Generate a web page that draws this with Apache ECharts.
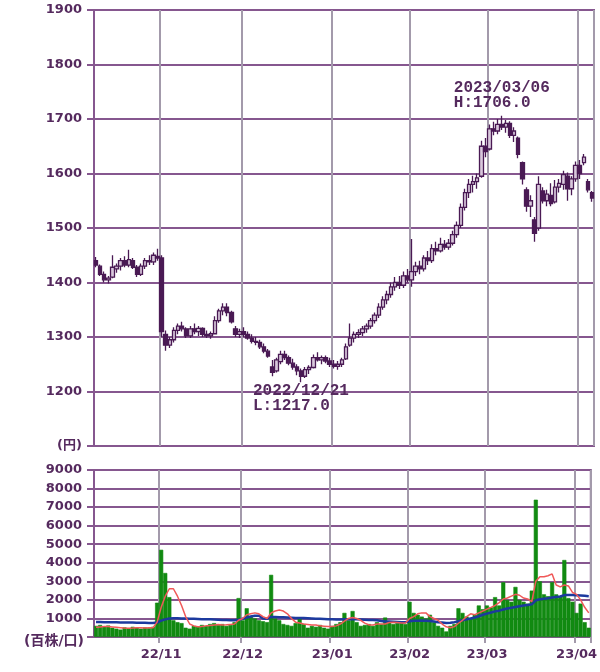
<!DOCTYPE html>
<html>
<head>
<meta charset="utf-8">
<script src="https://cdn.jsdelivr.net/npm/echarts@6/dist/echarts.min.js"></script>
<style>html,body{margin:0;padding:0;background:#fff;}#c{width:600px;height:672px;}</style>
</head>
<body>
<div id="c"></div>
<script>
const dates = [
'2022/10/07','2022/10/11','2022/10/12','2022/10/13','2022/10/14','2022/10/17','2022/10/18','2022/10/19','2022/10/20','2022/10/21','2022/10/24','2022/10/25','2022/10/26','2022/10/27','2022/10/28','2022/10/31',
'2022/11/01','2022/11/02','2022/11/04','2022/11/07','2022/11/08','2022/11/09','2022/11/10','2022/11/11','2022/11/14','2022/11/15','2022/11/16','2022/11/17','2022/11/18','2022/11/21','2022/11/22','2022/11/24','2022/11/25','2022/11/28','2022/11/29','2022/11/30',
'2022/12/01','2022/12/02','2022/12/05','2022/12/06','2022/12/07','2022/12/08','2022/12/09','2022/12/12','2022/12/13','2022/12/14','2022/12/15','2022/12/16','2022/12/19','2022/12/20','2022/12/21','2022/12/22','2022/12/23','2022/12/26','2022/12/27','2022/12/28','2022/12/29','2022/12/30',
'2023/01/04','2023/01/05','2023/01/06','2023/01/10','2023/01/11','2023/01/12','2023/01/13','2023/01/16','2023/01/17','2023/01/18','2023/01/19','2023/01/20','2023/01/23','2023/01/24','2023/01/25','2023/01/26','2023/01/27','2023/01/30','2023/01/31',
'2023/02/01','2023/02/02','2023/02/03','2023/02/06','2023/02/07','2023/02/08','2023/02/09','2023/02/10','2023/02/13','2023/02/14','2023/02/15','2023/02/16','2023/02/17','2023/02/20','2023/02/21','2023/02/22','2023/02/24','2023/02/27','2023/02/28',
'2023/03/01','2023/03/02','2023/03/03','2023/03/06','2023/03/07','2023/03/08','2023/03/09','2023/03/10','2023/03/13','2023/03/14','2023/03/15','2023/03/16','2023/03/17','2023/03/20','2023/03/22','2023/03/23','2023/03/24','2023/03/27','2023/03/28','2023/03/29','2023/03/30','2023/03/31',
'2023/04/03','2023/04/04','2023/04/05','2023/04/06'
];
const openP = [
1440,1430,1415,1405,1410,1425,1430,1440,1432,1440,1428,1415,1430,1440,1438,1448,
1445,1305,1285,1295,1312,1320,1315,1302,1315,1310,1316,1305,1302,1306,1330,1348,1355,1345,1315,1305,
1310,1305,1298,1292,1290,1282,1274,1245,1238,1255,1268,1262,1252,1245,1238,1228,1240,1244,1262,1258,1262,1256,
1250,1246,1250,1260,1285,1298,1305,1308,1315,1320,1330,1340,1355,1368,1378,1392,1400,1395,1412,
1405,1420,1430,1425,1445,1440,1462,1458,1470,1465,1472,1488,1505,1538,1565,1580,1585,1595,1650,
1645,1682,1678,1690,1685,1692,1670,1665,1620,1570,1540,1515,1500,1568,1550,1560,1548,1575,1580,1595,1572,1590,
1615,1620,1585,1565
];
const closeP = [
1432,1415,1405,1408,1428,1430,1440,1432,1442,1428,1415,1430,1440,1438,1450,1445,
1310,1285,1295,1312,1320,1315,1302,1315,1310,1316,1305,1302,1306,1330,1348,1355,1345,1328,1305,1310,
1305,1298,1292,1290,1282,1274,1265,1235,1258,1268,1262,1252,1245,1238,1228,1240,1244,1262,1258,1262,1256,1250,
1246,1250,1258,1282,1298,1305,1308,1315,1320,1330,1340,1355,1368,1378,1392,1400,1395,1412,1405,
1420,1430,1425,1445,1440,1462,1458,1470,1465,1472,1488,1505,1538,1565,1580,1585,1592,1650,1640,
1682,1678,1690,1685,1692,1670,1678,1635,1590,1540,1550,1490,1580,1550,1562,1545,1575,1582,1598,1572,1590,1615,
1600,1630,1570,1555
];
const lowP = [
1428,1412,1400,1398,1408,1418,1422,1428,1428,1425,1410,1412,1425,1432,1432,1440,
1300,1275,1280,1290,1305,1310,1298,1298,1305,1302,1300,1298,1297,1305,1326,1340,1338,1325,1300,1298,
1300,1295,1288,1285,1278,1270,1262,1228,1235,1250,1258,1248,1240,1230,1217,1225,1232,1242,1255,1250,1252,1245,
1242,1240,1245,1258,1282,1290,1298,1302,1308,1315,1325,1335,1350,1360,1372,1385,1388,1390,1400,
1392,1412,1415,1420,1432,1436,1450,1455,1460,1460,1468,1482,1500,1532,1555,1565,1572,1592,1630,
1642,1670,1672,1680,1675,1665,1658,1628,1580,1530,1520,1475,1495,1545,1540,1540,1545,1565,1570,1550,1560,1585,
1590,1615,1565,1548
];
const highP = [
1447,1433,1420,1412,1450,1435,1445,1448,1460,1445,1432,1435,1445,1450,1455,1462,
1450,1312,1300,1318,1325,1328,1318,1320,1325,1320,1318,1312,1310,1338,1352,1362,1362,1348,1320,1315,
1318,1310,1305,1300,1295,1288,1278,1258,1262,1275,1275,1266,1260,1250,1242,1245,1248,1268,1272,1266,1266,1262,
1258,1256,1262,1288,1325,1310,1314,1320,1325,1335,1345,1362,1375,1385,1400,1410,1412,1420,1425,
1480,1438,1440,1450,1458,1470,1475,1482,1478,1480,1495,1512,1545,1572,1590,1596,1600,1660,1665,
1690,1695,1700,1706,1698,1696,1685,1668,1622,1575,1560,1520,1595,1575,1570,1582,1588,1590,1605,1602,1595,1622,
1625,1636,1590,1568
];
const volume = [
600,650,580,620,500,450,400,520,480,550,500,450,520,480,550,1850,
4700,3450,2150,900,800,750,500,450,600,550,650,600,700,750,650,700,600,650,800,2100,
900,1550,1100,1000,900,850,800,3350,1000,900,700,650,600,750,1000,700,500,600,550,650,500,450,
600,700,800,1300,900,1400,800,600,650,700,600,800,700,1050,800,700,750,800,700,
1900,1300,1200,1100,1000,1200,800,600,500,300,600,700,1550,1300,1100,1000,1200,1700,1500,
1700,1600,2150,1700,2950,2000,1900,2700,2000,1900,1800,2500,7400,3000,2300,2200,2950,2300,2200,4150,2100,1900,
1300,1800,800,500
];
const volMaShort = [
520,540,560,560,540,520,500,480,470,480,500,500,490,500,500,800,
1600,2200,2600,2600,2200,1700,1100,700,600,550,560,600,620,650,680,650,660,680,700,900,
1000,1200,1250,1300,1250,1100,1000,1300,1400,1450,1400,1250,1000,800,750,700,680,650,650,600,580,560,
560,600,700,850,1000,1050,1000,900,750,650,650,700,700,700,780,800,780,760,760,
1000,1100,1250,1300,1300,1100,1000,900,700,550,500,560,740,900,1100,1250,1200,1300,1400,
1500,1600,1700,1850,2050,2100,2200,2300,2250,2100,2050,1900,3000,3250,3250,3300,3400,2800,2700,2800,2750,2400,
2300,2000,1600,1300
];
const volMaLong = [
810,805,800,800,795,790,785,780,780,775,770,770,765,760,760,780,
880,950,1000,1010,1010,1000,1000,990,980,970,960,960,950,940,930,920,910,900,900,930,
980,1050,1100,1150,1150,1000,980,1080,1080,1070,1060,1050,1040,1030,1030,1020,1010,1000,990,980,970,960,
950,940,940,950,960,960,950,940,930,920,910,900,860,830,830,820,810,800,800,
850,870,880,890,880,860,830,800,780,760,770,800,850,900,950,1000,1050,1120,1200,
1260,1320,1380,1420,1480,1540,1580,1620,1660,1700,1730,1760,1980,2030,2060,2090,2130,2160,2180,2260,2270,2260,
2250,2240,2220,2200
];
const monthStarts = ['2022/11/01','2022/12/01','2023/01/04','2023/02/01','2023/03/01','2023/04/03'];
const monthLabels = ['22/11','22/12','23/01','23/02','23/03','23/04'];
const highNote = {date:'2023/03/06', value:1706, lines:['2023/03/06','H:1706.0']};
const lowNote = {date:'2022/12/21', value:1217, lines:['2022/12/21','L:1217.0']};

const candleData = dates.map((d, i) => [openP[i], closeP[i], lowP[i], highP[i]]);
const isMonth = (idx, val) => monthStarts.indexOf(dates[idx]) >= 0;
const noteText = (lines) => { const w = Math.max(...lines.map(s => s.length)); return lines.map(s => s.padEnd(w, '\u00a0')).join('\n'); };

const txtColor = '#552a5e';
const hColor = '#86578f';
const vColor = '#a39aab';
const font = 'DejaVu Sans, Noto Sans CJK JP, sans-serif';
const candleColor = '#4a1a54';
const volColor = '#118a11';

const chart = echarts.init(document.getElementById('c'), null, {renderer: 'canvas'});
chart.setOption({
  animation: false,
  backgroundColor: '#ffffff',
  grid: [
    {left: 94, right: 6, top: 10, height: 436, show: true, borderColor: hColor, borderWidth: 2, backgroundColor: 'transparent'},
    {left: 94, right: 6, top: 470, height: 167, show: true, borderColor: hColor, borderWidth: 2, backgroundColor: 'transparent'}
  ],
  xAxis: [
    {type: 'category', gridIndex: 0, data: dates, boundaryGap: true,
     axisLine: {show: false}, axisTick: {show: false}, axisLabel: {show: false},
     splitLine: {show: true, interval: isMonth, lineStyle: {color: vColor, width: 2}}},
    {type: 'category', gridIndex: 1, data: dates, boundaryGap: true,
     axisLine: {show: false},
     axisTick: {show: true, interval: isMonth, length: 6, lineStyle: {color: vColor, width: 2}},
     axisLabel: {show: true, interval: isMonth, margin: 11, color: txtColor, fontFamily: font, fontWeight: 'bold', fontSize: 13,
       formatter: (v) => { const k = monthStarts.indexOf(v); return k >= 0 ? monthLabels[k] : ''; }},
     splitLine: {show: true, interval: isMonth, lineStyle: {color: vColor, width: 2}}}
  ],
  yAxis: [
    {type: 'value', gridIndex: 0, min: 1100, max: 1900, interval: 100,
     axisLine: {show: false},
     axisTick: {show: true, length: 7, lineStyle: {color: hColor, width: 2}},
     axisLabel: {color: txtColor, fontFamily: font, fontWeight: 'bold', fontSize: 13, margin: 12,
       formatter: (v) => v === 1100 ? '(円)' : String(v)},
     splitLine: {show: true, lineStyle: {color: hColor, width: 2}}},
    {type: 'value', gridIndex: 1, min: 0, max: 9000, interval: 1000,
     axisLine: {show: false},
     axisTick: {show: true, length: 7, lineStyle: {color: hColor, width: 2}},
     axisLabel: {color: txtColor, fontFamily: font, fontWeight: 'bold', fontSize: 13, margin: 12,
       formatter: (v) => v === 0 ? '{u|(百株/口)}' : String(v),
       rich: {u: {fontSize: 14, fontWeight: 'bold', color: txtColor, fontFamily: font, padding: [8, -2, 0, 0]}}},
     splitLine: {show: true, lineStyle: {color: hColor, width: 2}}}
  ],
  series: [
    {type: 'candlestick', xAxisIndex: 0, yAxisIndex: 0, data: candleData, barWidth: 4,
     itemStyle: {color: '#d9c8dc', color0: candleColor, borderColor: candleColor, borderColor0: candleColor, borderWidth: 1.3},
     markPoint: {
       symbol: 'circle', symbolSize: 1, itemStyle: {color: 'rgba(0,0,0,0)'},
       label: {show: true, color: txtColor, fontFamily: 'Liberation Mono, DejaVu Sans Mono, monospace', fontWeight: 'bold', fontSize: 16, lineHeight: 15, align: 'center'},
       data: [
         {coord: [highNote.date, highNote.value], label: {position: 'top', distance: 5, formatter: noteText(highNote.lines)}},
         {coord: [lowNote.date, lowNote.value], label: {position: 'bottom', distance: 1, formatter: noteText(lowNote.lines)}}
       ]
     }},
    {type: 'bar', xAxisIndex: 1, yAxisIndex: 1, data: volume, barCategoryGap: '0%',
     itemStyle: {color: volColor, borderColor: volColor, borderWidth: 0.6}},
    {type: 'line', xAxisIndex: 1, yAxisIndex: 1, data: volMaLong, symbol: 'none', smooth: false, lineStyle: {color: '#1c3a9e', width: 2.5}},
    {type: 'line', xAxisIndex: 1, yAxisIndex: 1, data: volMaShort, symbol: 'none', smooth: false, lineStyle: {color: '#f05858', width: 1.5}}
  ]
});
</script>
</body>
</html>
